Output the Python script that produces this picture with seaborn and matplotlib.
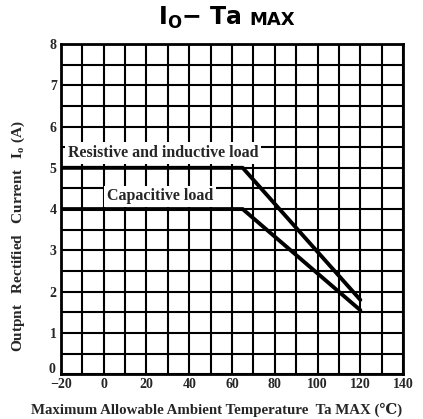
import numpy as np
import pandas as pd
import matplotlib
matplotlib.use("Agg")
import matplotlib.pyplot as plt
import seaborn as sns
from matplotlib.ticker import MultipleLocator

# derating curves
temp_resistive = [-20, 65, 120]
current_resistive = [5.0, 5.0, 1.8]
temp_capacitive = [-20, 65, 120]
current_capacitive = [4.0, 4.0, 1.55]
series_names = ["Resistive and inductive load", "Capacitive load"]

x_ticks = [-20, 0, 20, 40, 60, 80, 100, 120, 140]
y_ticks = [0, 1, 2, 3, 4, 5, 6, 7, 8]

df = pd.concat([
    pd.DataFrame({"Ta": temp_resistive, "Io": current_resistive, "load": series_names[0]}),
    pd.DataFrame({"Ta": temp_capacitive, "Io": current_capacitive, "load": series_names[1]}),
])

sns.set_style("white")
serif = ["Liberation Serif", "DejaVu Serif"]

fig = plt.figure(figsize=(4.23, 4.19), dpi=100)
ax = fig.add_axes([0.144, 0.107, 0.809, 0.788])

sns.lineplot(data=df, x="Ta", y="Io", units="load", estimator=None,
             color="black", lw=2.8, ax=ax, legend=False, zorder=3)

ax.set_xlim(-20, 140)
ax.set_ylim(0, 8)
ax.xaxis.set_minor_locator(MultipleLocator(10))
ax.yaxis.set_minor_locator(MultipleLocator(0.5))
ax.set_xticks(x_ticks)
ax.set_yticks(y_ticks)
ax.set_xticklabels(["\u221220" if t < 0 else str(t) for t in x_ticks],
                   family=serif, fontweight="bold", fontsize=10)
# the "0" of the y axis is drawn separately, sitting above the "-20"
ax.set_yticklabels(["" if t == 0 else str(t) for t in y_ticks],
                   family=serif, fontweight="bold", fontsize=10)
ax.annotate(str(y_ticks[0]), xy=(0, y_ticks[0]), xycoords=("axes fraction", "data"),
            xytext=(-4, -1), textcoords="offset points", ha="right", va="bottom",
            family=serif, fontweight="bold", fontsize=10)
ax.grid(True, which="both", color="black", lw=1.5)
ax.set_axisbelow(True)
ax.tick_params(which="both", length=0, pad=3)
for sp in ax.spines.values():
    sp.set_color("black")
    sp.set_linewidth(2)

ax.text(-16.8, 5.36, series_names[0], family=serif, fontweight="bold", fontsize=11.5,
        va="center", ha="left", zorder=2,
        bbox=dict(facecolor="white", edgecolor="none", pad=2))
ax.text(1.5, 4.31, series_names[1], family=serif, fontweight="bold", fontsize=11.5,
        va="center", ha="left", zorder=2,
        bbox=dict(facecolor="white", edgecolor="none", pad=2))

ax.set_xlabel("Maximum Allowable Ambient Temperature  Ta MAX (\u2103)",
              family=serif, fontweight="bold", fontsize=10.7)
ax.xaxis.set_label_coords(0.456, -0.085)
ax.set_ylabel("Outpnt   Rectified   Current   I$_\\mathregular{o}$ (A)",
              family=serif, fontweight="bold", fontsize=11)
ax.yaxis.set_label_coords(-0.1, 0.418)

# title: "Io - Ta" large, "MAX" in smaller capitals
fig.text(0.572, 0.94, "I$_\\mathregular{O}$\u2212 Ta", fontsize=17, fontweight="bold",
         color="black", ha="right", va="baseline")
fig.text(0.589, 0.94, "MAX", fontsize=13, fontweight="bold",
         color="black", ha="left", va="baseline")

fig.savefig("out.png", dpi=100)
